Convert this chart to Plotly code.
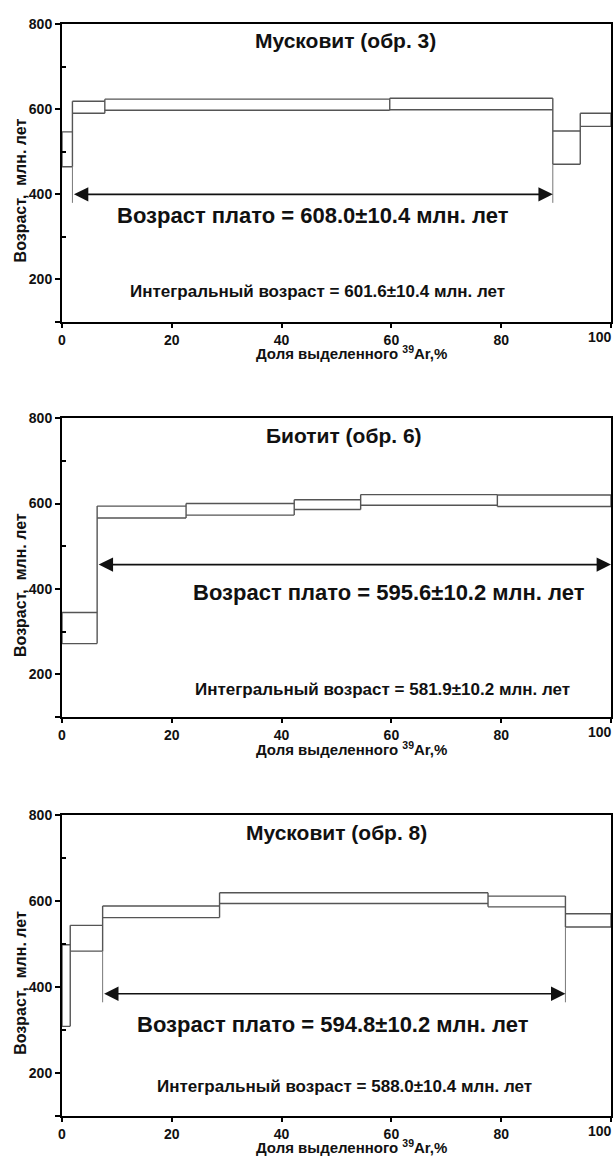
import plotly.graph_objects as go

W, H = 613, 1157

# ---------------- data ----------------
# Panel 1: Мусковит (обр. 3)
p1_title = "Мусковит (обр. 3)"
p1_edges = [0, 1.9, 7.8, 59.7, 89.4, 94.4, 100]
p1_hi = [547, 619, 624, 626, 549, 591]
p1_lo = [465, 591, 598, 599, 471, 560]
p1_plateau = [1.9, 89.4, 400]
p1_plateau_text = "Возраст плато = 608.0±10.4 млн. лет"
p1_integral_text = "Интегральный возраст = 601.6±10.4 млн. лет"

# Panel 2: Биотит (обр. 6)
p2_title = "Биотит (обр. 6)"
p2_edges = [0, 6.4, 22.6, 42.3, 54.4, 79.3, 100]
p2_hi = [345, 594, 600, 609, 621, 620]
p2_lo = [272, 566, 573, 586, 596, 593]
p2_plateau = [6.4, 100, 457]
p2_plateau_text = "Возраст плато = 595.6±10.2 млн. лет"
p2_integral_text = "Интегральный возраст = 581.9±10.2 млн. лет"

# Panel 3: Мусковит (обр. 8)
p3_title = "Мусковит (обр. 8)"
p3_edges = [0, 1.5, 7.4, 28.7, 77.6, 91.7, 100]
p3_hi = [498, 543, 588, 619, 611, 570]
p3_lo = [308, 483, 561, 594, 586, 539]
p3_plateau = [7.4, 91.7, 384]
p3_plateau_text = "Возраст плато = 594.8±10.2 млн. лет"
p3_integral_text = "Интегральный возраст = 588.0±10.4 млн. лет"

x_ticks = [0, 20, 40, 60, 80, 100]
y_ticks = [100, 200, 300, 400, 500, 600, 700, 800]
y_ticklabels = ["", "200", "", "400", "", "600", "", "800"]
y_title = "Возраст,\u00a0 млн. лет"
x_title = "Доля выделенного <sup>39</sup>Ar,%"

# ---------------- layout params ----------------
FONT = "Liberation Sans, Arial, sans-serif"
L, R = 62, 2
panel_px = [(16.5, 316.0), (413.0, 714.0), (812.5, 1115.5)]
xtitle_shift = [-31, -31, -30.5]
title_pos = [(51.6, 761), (51.4, 760), (50.0, 758)]
plateau_text_pos = [(45.7, 350), (59.5, 391), (49.3, 312)]
integral_text_pos = [(46.6, 171), (58.4, 165), (51.5, 167)]

panels = [
    (p1_title, p1_edges, p1_hi, p1_lo, p1_plateau, p1_plateau_text, p1_integral_text),
    (p2_title, p2_edges, p2_hi, p2_lo, p2_plateau, p2_plateau_text, p2_integral_text),
    (p3_title, p3_edges, p3_hi, p3_lo, p3_plateau, p3_plateau_text, p3_integral_text),
]

fig = go.Figure()
annotations = []
layout = {}
step_color = "#555555"
ink = "#111111"

for k, (title, edges, hi, lo, plat, ptext, itext) in enumerate(panels):
    n = k + 1
    xr = "x" if n == 1 else f"x{n}"
    yr = "y" if n == 1 else f"y{n}"
    xs, ys = [], []
    nb = len(hi)
    for i in range(nb):
        xs += [edges[i], edges[i + 1], None, edges[i], edges[i + 1], None]
        ys += [hi[i], hi[i], None, lo[i], lo[i], None]
    xs += [edges[0], edges[0], None]
    ys += [lo[0], hi[0], None]
    for i in range(1, nb):
        xs += [edges[i], edges[i], None]
        ys += [min(lo[i - 1], lo[i]), max(hi[i - 1], hi[i]), None]
    xs += [edges[-1], edges[-1], None]
    ys += [lo[-1], hi[-1], None]
    fig.add_trace(go.Scatter(x=xs, y=ys, mode="lines",
                             line=dict(color=step_color, width=1.4),
                             xaxis=xr, yaxis=yr, hoverinfo="skip",
                             showlegend=False))
    ps, pe, py = plat
    ext_x, ext_y = [], []
    for xb in (ps, pe):
        if 0 < xb < 100:
            idx = edges.index(xb)
            mlo = min(lo[idx - 1], lo[idx])
            if mlo > py - 20:
                ext_x += [xb, xb, None]
                ext_y += [py - 20, mlo, None]
    if ext_x:
        fig.add_trace(go.Scatter(x=ext_x, y=ext_y, mode="lines",
                                 line=dict(color="#777777", width=1),
                                 xaxis=xr, yaxis=yr, hoverinfo="skip",
                                 showlegend=False))
    annotations.append(dict(x=pe, y=py, ax=ps, ay=py, xref=xr, yref=yr,
                            axref=xr, ayref=yr, text="", showarrow=True,
                            arrowhead=2, startarrowhead=2, arrowside="end+start",
                            arrowsize=1.8, startarrowsize=1.8, arrowwidth=1.6,
                            arrowcolor=ink, standoff=0, startstandoff=0))
    annotations.append(dict(x=title_pos[k][0], y=title_pos[k][1], xref=xr, yref=yr,
                            text=title, showarrow=False,
                            font=dict(family=FONT, size=21, color=ink, weight="bold")))
    annotations.append(dict(x=plateau_text_pos[k][0], y=plateau_text_pos[k][1], xref=xr, yref=yr,
                            text=ptext, showarrow=False,
                            font=dict(family=FONT, size=22, color=ink, weight="bold")))
    annotations.append(dict(x=integral_text_pos[k][0], y=integral_text_pos[k][1], xref=xr, yref=yr,
                            text=itext, showarrow=False,
                            font=dict(family=FONT, size=17, color=ink, weight="bold")))
    annotations.append(dict(x=(20.3 - L) / (W - L - R), y=410, xref="paper", yref=yr,
                            text=y_title, textangle=-90, showarrow=False,
                            xanchor="center", yanchor="middle",
                            font=dict(family=FONT, size=16, color=ink, weight="bold")))
    annotations.append(dict(x=52.7, y=0, xref=xr, yref=f"{yr} domain", yshift=xtitle_shift[k],
                            text=x_title, showarrow=False, yanchor="middle",
                            font=dict(family=FONT, size=15, color=ink, weight="bold")))
    annotations.append(dict(x=1, y=0, xref=f"{xr} domain", yref=f"{yr} domain",
                            xanchor="right", yanchor="top", xshift=3, yshift=-5,
                            text=str(x_ticks[-1]), showarrow=False,
                            font=dict(family=FONT, size=14, color=ink, weight="bold")))

    top, bot = panel_px[k]
    dom = [1 - bot / H, 1 - top / H]
    axis_common = dict(showline=True, mirror=True, linecolor="black", linewidth=2,
                       showgrid=False, zeroline=False,
                       tickfont=dict(family=FONT, size=14, color=ink, weight="bold"),
                       ticks="outside", tickcolor="black", tickwidth=1.5)
    layout["xaxis" if n == 1 else f"xaxis{n}"] = dict(
        axis_common, domain=[0, 1], range=[0, 100], anchor=yr,
        tickmode="array", tickvals=x_ticks,
        ticktext=[str(v) for v in x_ticks[:-1]] + [""], ticklen=4)
    layout["yaxis" if n == 1 else f"yaxis{n}"] = dict(
        axis_common, domain=dom, range=[100, 800], anchor=xr,
        tickmode="array", tickvals=y_ticks, ticktext=y_ticklabels, ticklen=5,
        minor=dict(tickmode="array", tickvals=[300, 500, 700], ticks="inside",
                   ticklen=4, tickcolor="black", tickwidth=1.5))

fig.update_layout(width=W, height=H, margin=dict(l=L, r=R, t=0, b=0),
                  paper_bgcolor="white", plot_bgcolor="white",
                  showlegend=False, annotations=annotations, **layout)

fig.write_html("out.html", config={"displayModeBar": False},
               post_script="document.body.style.margin='0';"
                           "document.body.style.overflow='hidden';")
